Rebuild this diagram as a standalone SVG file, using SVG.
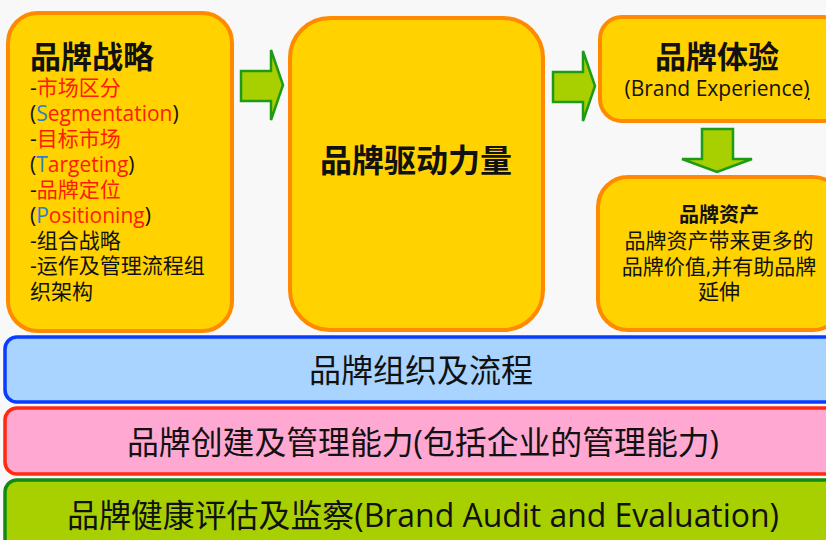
<svg xmlns="http://www.w3.org/2000/svg" width="826" height="540" viewBox="0 0 826 540">
<style>
text{font-family:"Open Sans","Noto Sans CJK SC",sans-serif;fill:#111}
.box{fill:#ffd200;stroke:#ff8a00;stroke-width:4}
.arr{fill:#a8cf00;stroke:#1d9a16;stroke-width:2.5;stroke-linejoin:miter}
.r{fill:#ff1a00}
.b{fill:#2a7fd0}
.band{font-size:32px;text-anchor:middle}
</style>
<rect width="826" height="540" fill="#f8f8f8"/>
<g id="strategy">
<rect class="box" x="8" y="13" width="224" height="318" rx="30"/>
<text x="30" y="68" font-size="31" font-weight="bold">品牌战略</text>
<g font-size="21">
<text x="30" y="95">-<tspan class="r">市场区分</tspan></text>
<text x="30" y="121">(<tspan class="b">S</tspan><tspan class="r">egmentation</tspan>)</text>
<text x="30" y="146">-<tspan class="r">目标市场</tspan></text>
<text x="30" y="172">(<tspan class="b">T</tspan><tspan class="r">argeting</tspan>)</text>
<text x="30" y="197">-<tspan class="r">品牌定位</tspan></text>
<text x="30" y="223">(<tspan class="b">P</tspan><tspan class="r">ositioning</tspan>)</text>
<text x="30" y="248">-组合战略</text>
<text x="30" y="273">-运作及管理流程组</text>
<text x="30" y="299">织架构</text>
</g>
</g>
<g id="driver">
<rect class="box" x="290" y="18" width="253" height="312" rx="40"/>
<text x="416" y="172" font-size="32" font-weight="bold" text-anchor="middle">品牌驱动力量</text>
</g>
<g id="experience">
<rect class="box" x="600" y="17" width="245" height="104" rx="22"/>
<text x="717" y="68" font-size="31" font-weight="bold" text-anchor="middle">品牌体验</text>
<text x="717" y="96" font-size="21" text-anchor="middle">(Brand Experience<tspan text-decoration="underline">)</tspan></text>
</g>
<g id="equity">
<rect class="box" x="598" y="177" width="245" height="153" rx="30"/>
<text x="719" y="222" font-size="20" font-weight="bold" text-anchor="middle">品牌资产</text>
<g font-size="21" text-anchor="middle">
<text x="719" y="248">品牌资产带来更多的</text>
<text x="719" y="274">品牌价值,并有助品牌</text>
<text x="719" y="299">延伸</text>
</g>
</g>
<g id="connectors">
<polygon class="arr" points="241,71 271,71 271,50 283,85 271,120 271,101 241,101"/>
<polygon class="arr" points="553,72 583,72 583,51 595,86 583,121 583,102 553,102"/>
<polygon class="arr" points="702,129 733,129 733,159 752,159 717,172 682,159 702,159"/>
</g>
<g id="org">
<rect x="5" y="337" width="840" height="65" rx="12" fill="#a8d4ff" stroke="#0a3cff" stroke-width="3.5"/>
<text class="band" x="421" y="382">品牌组织及流程</text>
</g>
<g id="capability">
<rect x="5" y="408" width="840" height="66" rx="12" fill="#ffa8d2" stroke="#ff2a10" stroke-width="3.5"/>
<text class="band" x="423" y="454" textLength="592" lengthAdjust="spacingAndGlyphs">品牌创建及管理能力(包括企业的管理能力)</text>
</g>
<g id="audit">
<rect x="5" y="480" width="840" height="80" rx="12" fill="#a8d000" stroke="#128a12" stroke-width="3.5"/>
<text class="band" x="423" y="527" textLength="712" lengthAdjust="spacingAndGlyphs">品牌健康评估及监察(Brand Audit and Evaluation)</text>
</g>
</svg>
